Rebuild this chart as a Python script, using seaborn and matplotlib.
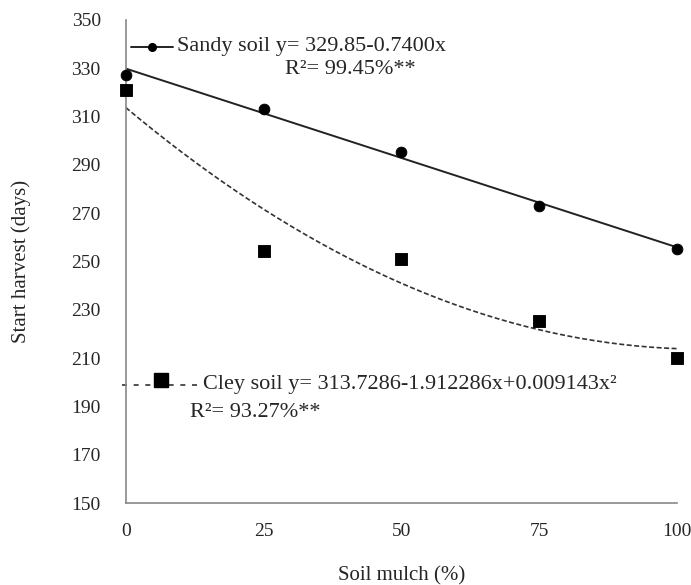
import numpy as np
import pandas as pd
import matplotlib
matplotlib.use("Agg")
import matplotlib.pyplot as plt
import seaborn as sns

mulch = [0, 25, 50, 75, 100]
sandy = [327, 313, 295.5, 273, 255]
clay = [321, 254.5, 251, 225.5, 210]
sandy_coef = [329.85, -0.7400]
clay_coef = [313.7286, -1.912286, 0.009143]
yticks = [150, 170, 190, 210, 230, 250, 270, 290, 310, 330, 350]
xticks = [0, 25, 50, 75, 100]

sns.set_style("white")
plt.rcParams['font.family'] = ['Liberation Serif', 'DejaVu Serif']

fig = plt.figure(figsize=(6.91, 5.85), dpi=100)
ax = fig.add_axes([0.182, 0.140, 0.798, 0.826])

xf = np.linspace(0, 100, 201)
fit = pd.DataFrame({
    "x": xf,
    "sandy": sandy_coef[0] + sandy_coef[1] * xf,
    "clay": clay_coef[0] + clay_coef[1] * xf + clay_coef[2] * xf ** 2,
})
sns.lineplot(data=fit, x="x", y="sandy", ax=ax, color="#222222", lw=1.4)
sns.lineplot(data=fit, x="x", y="clay", ax=ax, color="#333333", lw=1.2, linestyle=(0, (3, 1.5)))

pts = pd.DataFrame({"x": mulch, "sandy": sandy, "clay": clay})
sns.scatterplot(data=pts, x="x", y="sandy", ax=ax, marker="o", s=60, color="black",
                edgecolor="black", zorder=5, clip_on=False)
sns.scatterplot(data=pts, x="x", y="clay", ax=ax, marker="s", s=64, color="black",
                edgecolor="black", zorder=5, clip_on=False)

ax.set_xlim(0, 100)
ax.set_ylim(150, 350)
ax.set_xticks(xticks)
ax.set_yticks(yticks)
ax.tick_params(axis="both", direction="out", length=6, width=1, color="#888888", labelsize=14)
ax.tick_params(axis="y", pad=12)
ax.tick_params(axis="x", pad=8)
for s in ["top", "right"]:
    ax.spines[s].set_visible(False)
for s in ["left", "bottom"]:
    ax.spines[s].set_color("#888888")
    ax.spines[s].set_linewidth(1.2)

ax.set_xlabel("Soil mulch (%)", fontsize=15, labelpad=19)
ax.set_ylabel("Start harvest (days)", fontsize=15, labelpad=29)

# Legend-like annotations
ax.plot([1.0, 8.5], [338.9, 338.9], color="#222222", lw=1.4, clip_on=False)
ax.plot([4.7], [338.9], marker="o", ms=5.5, color="black", clip_on=False)
ax.text(9.3, 338.9, "Sandy soil y= 329.85-0.7400x", fontsize=16, va="center", ha="left")
ax.text(28.9, 329.3, "R²= 99.45%**", fontsize=16, va="center", ha="left")

ax.plot([-0.7, 13.4], [198.9, 198.9], color="#333333", lw=1.2, linestyle=(0, (3, 4)), clip_on=False)
ax.plot([6.4], [200.8], marker="s", ms=10, color="black", clip_on=False, zorder=6)
ax.text(14.0, 198.9, "Cley soil y= 313.7286-1.912286x+0.009143x²", fontsize=16, va="center", ha="left")
ax.text(11.6, 187.7, "R²= 93.27%**", fontsize=16, va="center", ha="left")

fig.savefig("out.png", dpi=100)
